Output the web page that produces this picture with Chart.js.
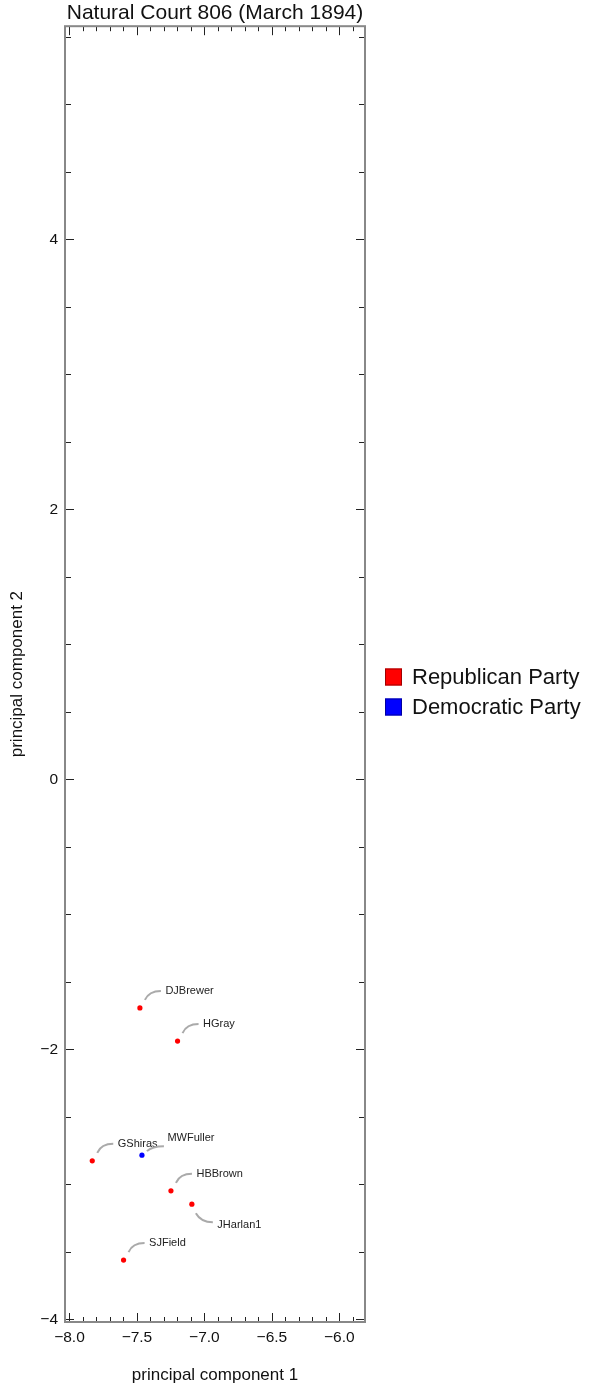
<!DOCTYPE html>
<html>
<head>
<meta charset="utf-8">
<script src="https://cdn.jsdelivr.net/npm/chart.js@4/dist/chart.umd.min.js"></script>
<style>
  html, body { margin: 0; padding: 0; background: #fff; }
  #wrap { width: 591px; height: 1391px; }
</style>
</head>
<body>
<div id="wrap"><canvas id="court"></canvas></div>
<script>
// values
const justices = ['DJBrewer', 'HGray', 'GShiras', 'MWFuller', 'HBBrown', 'JHarlan1', 'SJField'];
const pc1 = [-7.478, -7.199, -7.831, -7.463, -7.248, -7.093, -7.599];
const pc2 = [-1.693, -1.939, -2.826, -2.784, -3.048, -3.147, -3.561];
const justiceParty = ['Republican Party', 'Republican Party', 'Republican Party', 'Democratic Party',
    'Republican Party', 'Republican Party', 'Republican Party'];
const parties = ['Republican Party', 'Democratic Party'];
const partyColours = ['#ff0000', '#0000ff'];
const partyBorders = ['#a00000', '#0000a0'];
const xTicks = [-8, -7.5, -7, -6.5, -6];
const yTicks = [-4, -2, 0, 2, 4];

const FONT = '"Liberation Sans", Arial, sans-serif';
const minus = v => String(v).replace('-', '\u2212');

// labels that hang below their point instead of above
const labelsBelow = ['JHarlan1'];

function datasetFor(p, idx) {
    let pts = [];
    justices.forEach((name, i) => {
        if (justiceParty[i] === p) pts.push({x: pc1[i], y: pc2[i], name: name});
    });
    return {
        label: p,
        data: pts,
        backgroundColor: partyColours[idx],
        borderColor: partyColours[idx],
        pointRadius: 2.6,
        pointBorderWidth: 0,
        showLine: false
    };
}

// frame with inward ticks on all four sides
const framePlugin = {
    id: 'frame',
    afterDraw(chart) {
        const {ctx, chartArea: a, scales: {x, y}} = chart;
        ctx.save();
        ctx.strokeStyle = '#222';
        ctx.lineWidth = 1;
        ctx.beginPath();
        for (let i = -80; i <= -58; i++) {
            let v = i / 10;
            let px = Math.round(x.getPixelForValue(v)) + 0.5;
            if (px < a.left || px > a.right) continue;
            let len = (i % 5 === 0) ? 9 : 5;
            ctx.moveTo(px, a.bottom); ctx.lineTo(px, a.bottom - len);
            ctx.moveTo(px, a.top); ctx.lineTo(px, a.top + len);
        }
        for (let i = -8; i <= 11; i++) {
            let v = i / 2;
            let py = Math.round(y.getPixelForValue(v)) + 0.5;
            if (py < a.top || py > a.bottom) continue;
            let len = (i % 4 === 0) ? 9 : 6;
            ctx.moveTo(a.left, py); ctx.lineTo(a.left + len, py);
            ctx.moveTo(a.right, py); ctx.lineTo(a.right - len, py);
        }
        ctx.stroke();
        ctx.strokeStyle = '#888';
        ctx.lineWidth = 2;
        ctx.strokeRect(a.left, a.top, a.right - a.left, a.bottom - a.top);
        ctx.restore();
    }
};

// justice names with the curved grey leaders
const namePlugin = {
    id: 'names',
    afterDatasetsDraw(chart) {
        const ctx = chart.ctx;
        ctx.save();
        ctx.font = '11px ' + FONT;
        ctx.textBaseline = 'middle';
        ctx.fillStyle = '#222';
        chart.data.datasets.forEach((ds, di) => {
            chart.getDatasetMeta(di).data.forEach((pt, i) => {
                let name = ds.data[i].name;
                let px = pt.x, py = pt.y;
                let below = labelsBelow.includes(name);
                ctx.strokeStyle = '#aaa';
                ctx.lineWidth = 2;
                ctx.beginPath();
                if (below) {
                    ctx.moveTo(px + 4, py + 9);
                    ctx.quadraticCurveTo(px + 9, py + 18, px + 21, py + 18);
                } else if (name === 'MWFuller') {
                    ctx.moveTo(px + 5, py - 4);
                    ctx.quadraticCurveTo(px + 10, py - 9, px + 22, py - 9);
                } else {
                    ctx.moveTo(px + 5, py - 8);
                    ctx.quadraticCurveTo(px + 9, py - 17, px + 21, py - 17);
                }
                ctx.stroke();
                ctx.fillText(name, px + 25.5, below ? py + 21 : py - 17);
            });
        });
        ctx.restore();
    }
};

const legendPlugin = {
    id: 'partyLegend',
    afterDraw(chart) {
        const ctx = chart.ctx;
        let left = chart.chartArea.right + 20;
        let mid = chart.height / 2 - 4;
        ctx.save();
        ctx.font = '22px ' + FONT;
        ctx.textBaseline = 'middle';
        parties.forEach((p, i) => {
            let cy = mid + (i - 0.5) * 30;
            ctx.fillStyle = partyColours[i];
            ctx.fillRect(left, cy - 8, 17, 17);
            ctx.strokeStyle = partyBorders[i];
            ctx.lineWidth = 1;
            ctx.strokeRect(left + 0.5, cy - 7.5, 16, 16);
            ctx.fillStyle = '#111';
            ctx.fillText(p, left + 27, cy + 1);
        });
        ctx.restore();
    }
};

new Chart(document.getElementById('court'), {
    type: 'scatter',
    data: {datasets: parties.map(datasetFor)},
    options: {
        responsive: true,
        maintainAspectRatio: false,
        animation: false,
        layout: {padding: {left: 0, right: 226, top: 0, bottom: 0}},
        plugins: {
            legend: {display: false},
            tooltip: {enabled: false},
            title: {
                display: true,
                fullSize: false,
                text: 'Natural Court 806 (March 1894)',
                color: '#111',
                font: {family: FONT, size: 21, weight: 'normal'},
                padding: {top: 1, bottom: 0}
            }
        },
        scales: {
            x: {
                type: 'linear',
                min: -8.033,
                max: -5.81,
                grid: {display: false, drawTicks: false},
                border: {display: false},
                afterBuildTicks: s => { s.ticks = xTicks.map(v => ({value: v})); },
                afterFit: s => { s.height = 69; },
                ticks: {
                    color: '#111',
                    padding: 6,
                    font: {family: FONT, size: 15.5},
                    callback: v => minus(v.toFixed(1))
                },
                title: {
                    display: true,
                    text: 'principal component 1',
                    color: '#111',
                    font: {family: FONT, size: 17},
                    padding: {top: 0, bottom: 5}
                }
            },
            y: {
                type: 'linear',
                min: -4.02,
                max: 5.58,
                grid: {display: false, drawTicks: false},
                border: {display: false},
                afterBuildTicks: s => { s.ticks = yTicks.map(v => ({value: v})); },
                afterFit: s => { s.width = 65; },
                ticks: {
                    color: '#111',
                    padding: 7,
                    font: {family: FONT, size: 15.5},
                    callback: v => minus(v)
                },
                title: {
                    display: true,
                    text: 'principal component 2',
                    color: '#111',
                    font: {family: FONT, size: 17},
                    padding: {top: 7, bottom: 0}
                }
            }
        }
    },
    plugins: [framePlugin, namePlugin, legendPlugin]
});
</script>
</body>
</html>
